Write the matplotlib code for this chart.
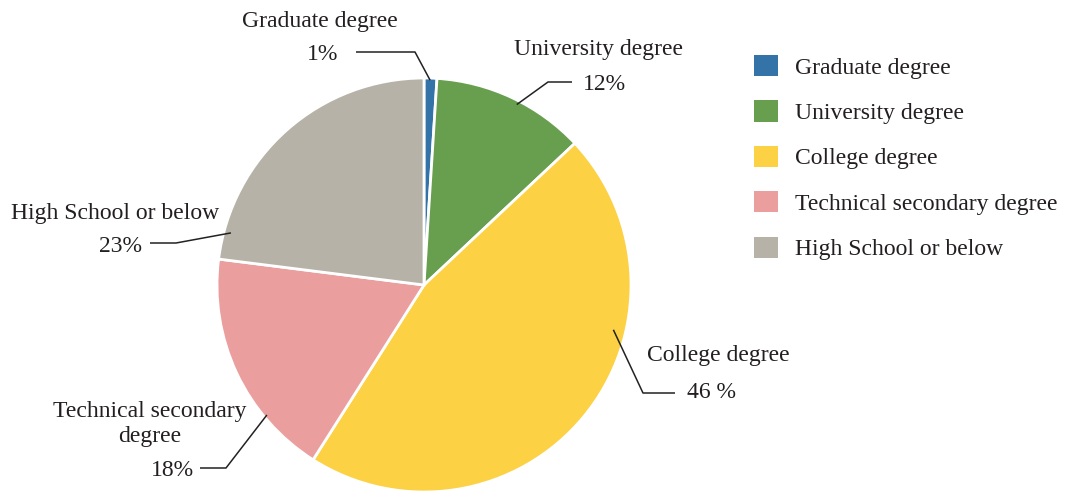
import matplotlib.pyplot as plt
import matplotlib.patches as mpatches
import numpy as np

plt.rcParams['font.family'] = ['Liberation Serif', 'DejaVu Serif']

# data
categories = ['Graduate degree', 'University degree', 'College degree',
              'Technical secondary degree', 'High School or below']
shares = [1, 12, 46, 18, 23]
pct_labels = ['1%', '12%', '46 %', '18%', '23%']
colors = ['#3373a8', '#679f4f', '#fcd143', '#eb9e9e', '#b6b2a7']

W, H = 1068, 492
fig = plt.figure(figsize=(W / 100, H / 100), dpi=100)
ax = fig.add_axes([0, 0, 1, 1])

cx, cy, R = 424, H - 285, 207
wedges, _ = ax.pie(shares, colors=colors, startangle=90, counterclock=False,
                   center=(cx, cy), radius=R, frame=True,
                   wedgeprops=dict(edgecolor='white', linewidth=2))
ax.set_xlim(0, W)
ax.set_ylim(0, H)
ax.set_aspect('equal')
ax.axis('off')

# leader-line layout: anchor (angle deg, radius frac), elbow, end (pixel coords, y down)
leaders = [
    ((88.3, 0.99), (415, 52), (356, 52)),
    ((62.8, 0.98), (548, 82), (572, 82)),
    ((-13.3, 0.94), (643, 393), (675, 393)),
    ((-140.4, 0.985), (226, 468), (200, 468)),
    ((164.9, 0.966), (176, 243), (150, 243)),
]
for (ang, rf), (ex, ey), (tx, ty) in leaders:
    a = np.deg2rad(ang)
    ax0 = cx + rf * R * np.cos(a)
    ay0 = cy + rf * R * np.sin(a)
    ax.plot([ax0, ex, tx], [ay0, H - ey, H - ty], color='#222222', lw=1.1,
            solid_capstyle='butt')

fs = 17
tc = '#231f20'
# name labels (pixel coords, y down)
name_pos = [(320, 22, 'center'), (599, 49, 'center'), (718, 355, 'center'),
            (150, 424, 'center'), (115, 214, 'center')]
name_text = ['Graduate degree', 'University degree', 'College degree',
             'Technical secondary\ndegree', 'High School or below']
for (x, y, ha), t in zip(name_pos, name_text):
    ax.text(x, H - y, t, ha=ha, va='center', fontsize=fs, color=tc,
            linespacing=1.25)

pct_pos = [(338, 55, 'right'), (583, 84, 'left'), (687, 393, 'left'),
           (194, 470, 'right'), (142, 246, 'right')]
for (x, y, ha), t in zip(pct_pos, pct_labels):
    ax.text(x, H - y, t, ha=ha, va='center', fontsize=fs, color=tc)

handles = [mpatches.Patch(facecolor=c, edgecolor='none') for c in colors]
leg = ax.legend(handles, categories, loc='upper left',
                bbox_to_anchor=(754 / W, 1 - 55 / H), bbox_transform=fig.transFigure,
                frameon=False, fontsize=fs, handlelength=1.0, handleheight=1.0,
                handletextpad=0.75, labelspacing=0.92, borderpad=0, borderaxespad=0)
for txt in leg.get_texts():
    txt.set_color(tc)

fig.savefig('out.png', dpi=100)
